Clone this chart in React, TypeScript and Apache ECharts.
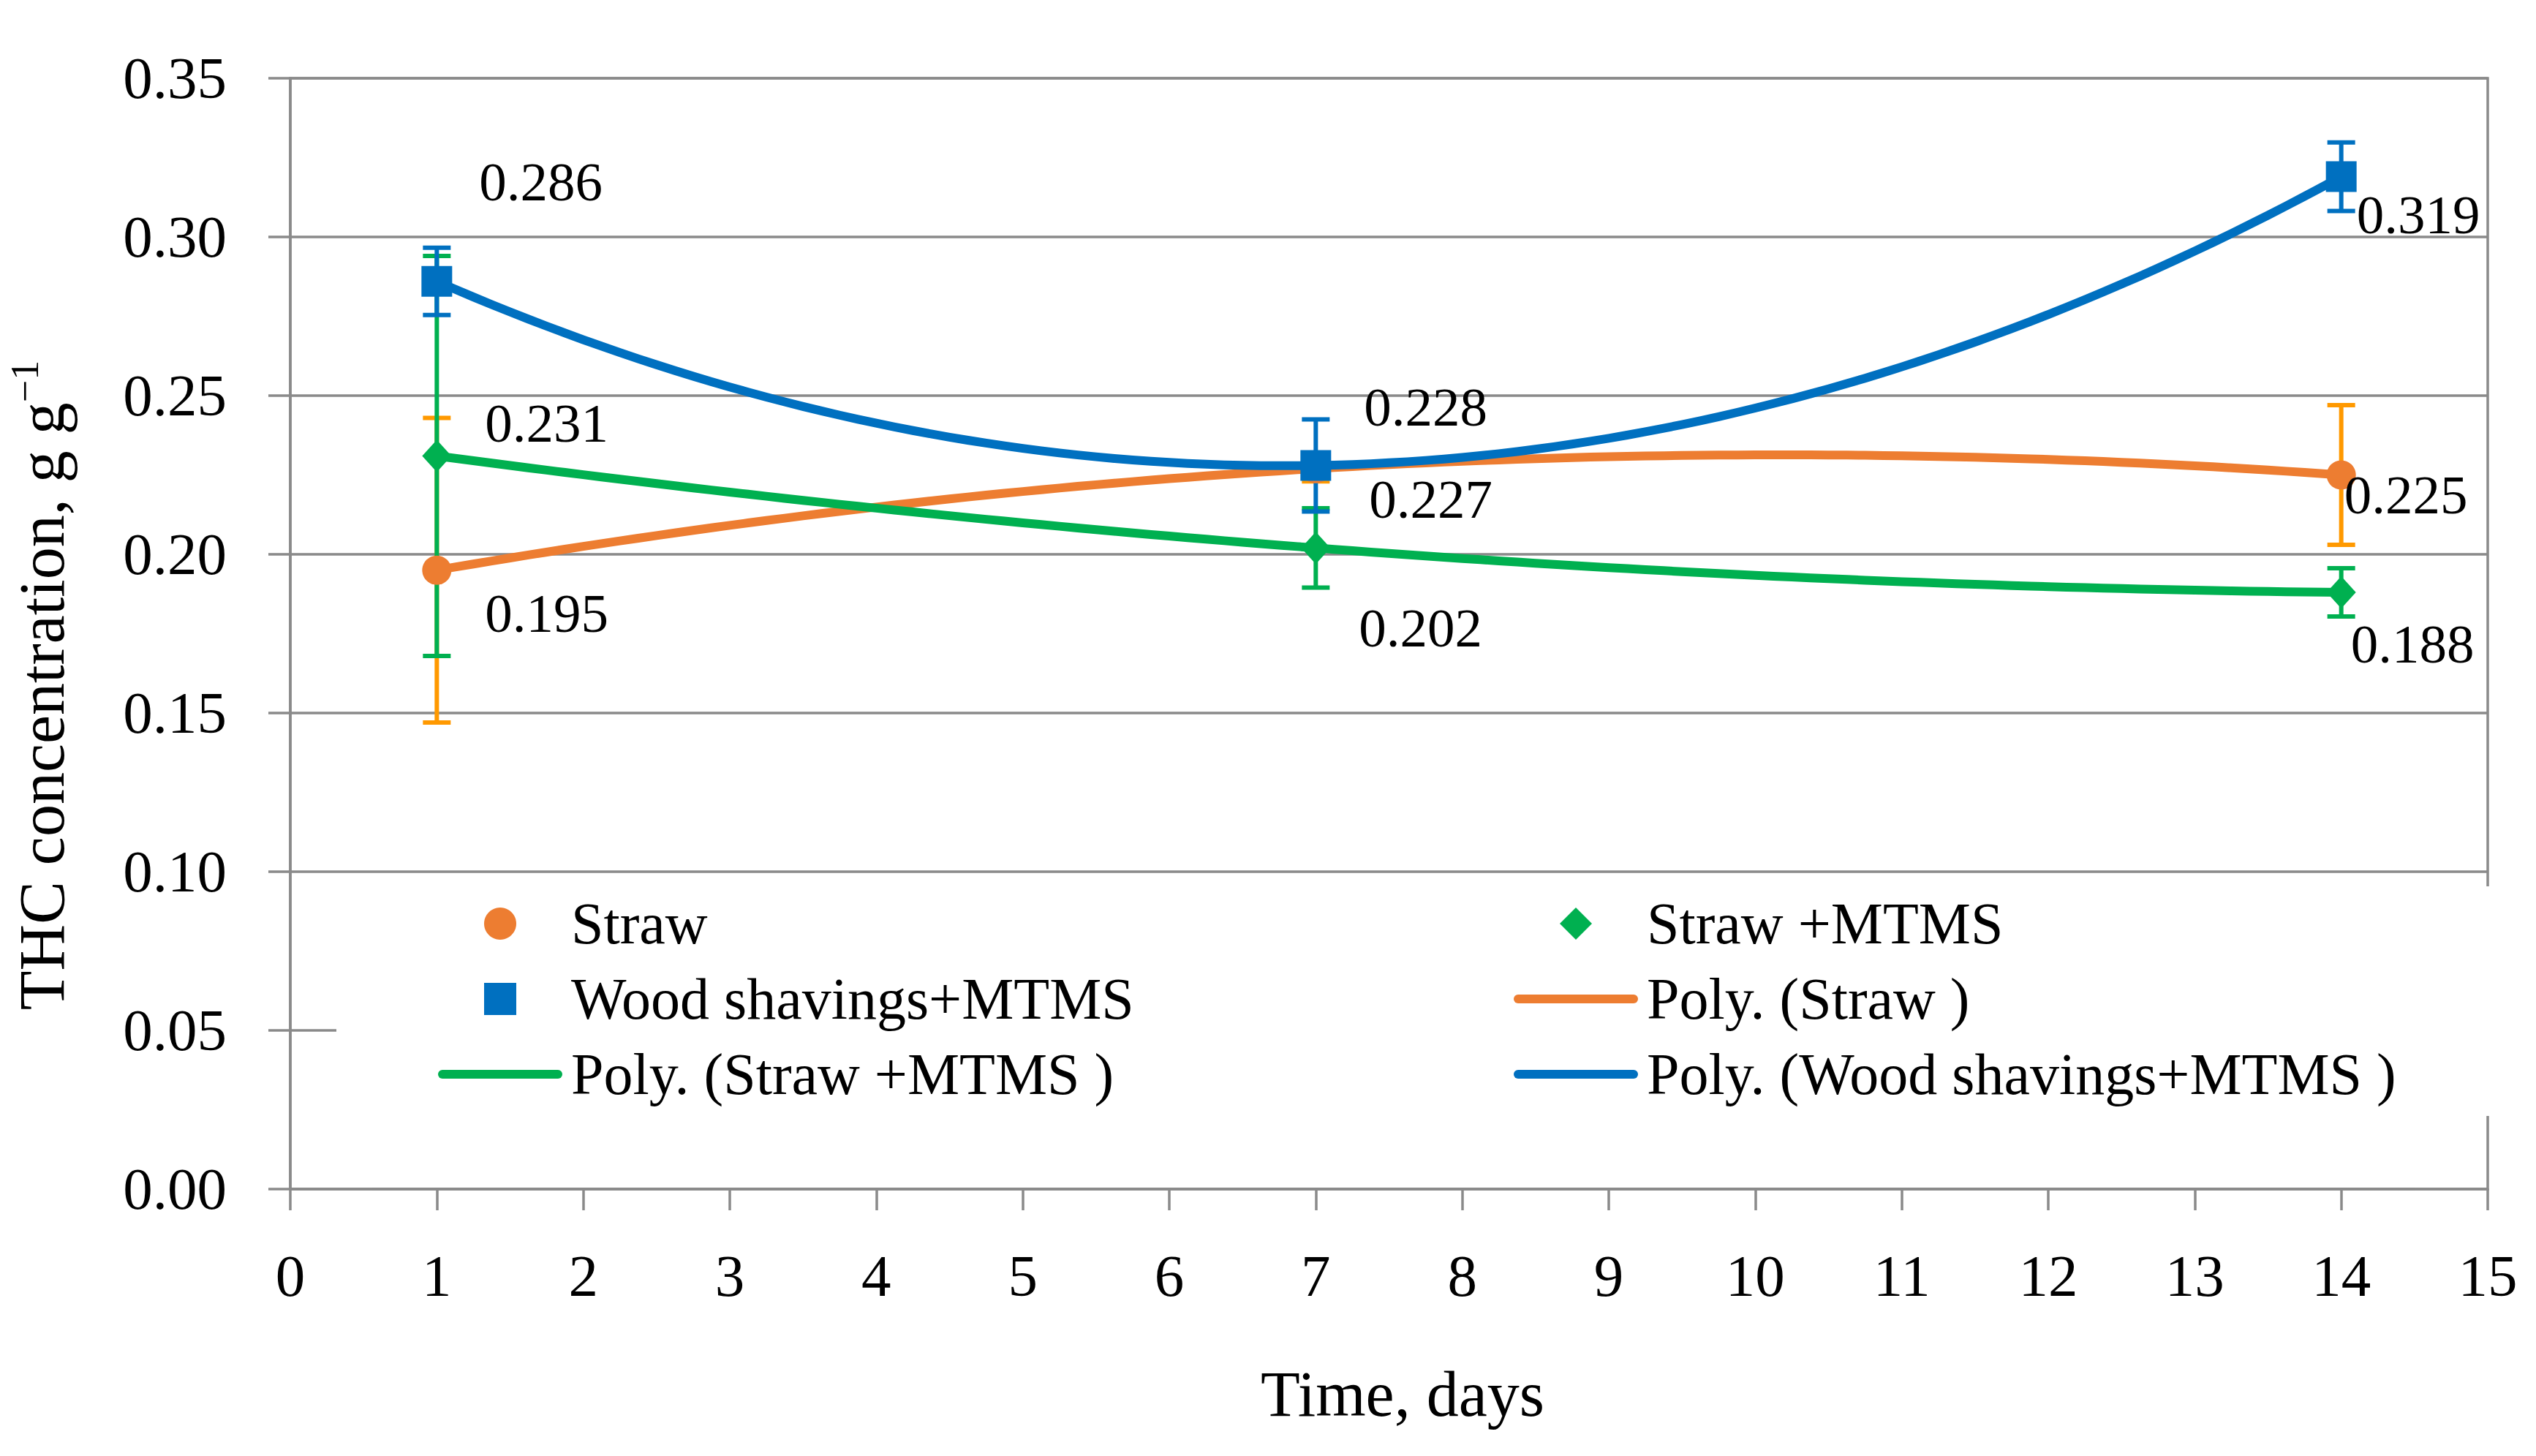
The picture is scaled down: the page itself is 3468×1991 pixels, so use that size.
import React, { useEffect, useRef } from "react";
import * as echarts from "echarts";

// ---- data ----
const days = [1, 7, 14];
const straw = [0.195, 0.227, 0.225];
const strawErr = [0.048, 0.004, 0.022];
const strawMtms = [0.231, 0.202, 0.188];
const strawMtmsErr = [0.063, 0.0125, 0.0076];
const wood = [0.286, 0.228, 0.319];
const woodErr = [0.0106, 0.0145, 0.0108];

const X_MIN = 0;
const X_MAX = 15;
const X_STEP = 1;
const Y_MIN = 0;
const Y_MAX = 0.35;
const Y_STEP = 0.05;

// label offsets (layout, px from point centre to label's left/middle)
const strawLabelOffsets = [[66, 59], [73, 42], [4, 27]];
const strawMtmsLabelOffsets = [[66, -45], [59, 109], [13, 70]];
const woodLabelOffsets = [[58, -136], [66, -80], [21, 52]];

const FONT = "'Liberation Serif', 'Times New Roman', serif";
const ORANGE = "#ED7D31";
const ORANGE_ERR = "#FF9900";
const GREEN = "#00B050";
const BLUE = "#0070C0";
const GRAY = "#8A8A8A";

// Excel "Poly." trendline (order 2, least squares) fitted to a series' points
function polyFit2(xs: number[], ys: number[]) {
  const [x0, x1, x2] = xs;
  const [y0, y1, y2] = ys;
  return (x: number) =>
    (y0 * (x - x1) * (x - x2)) / ((x0 - x1) * (x0 - x2)) +
    (y1 * (x - x0) * (x - x2)) / ((x1 - x0) * (x1 - x2)) +
    (y2 * (x - x0) * (x - x1)) / ((x2 - x0) * (x2 - x1));
}
function trendData(ys: number[]) {
  const f = polyFit2(days, ys);
  const out: number[][] = [];
  const n = 104;
  const a = days[0];
  const b = days[days.length - 1];
  for (let i = 0; i <= n; i++) {
    const x = a + ((b - a) * i) / n;
    out.push([x, f(x)]);
  }
  return out;
}

function errorSeries(name: string, ys: number[], errs: number[], color: string) {
  return {
    name,
    type: "custom",
    z: 2,
    data: days.map((d, i) => [d, ys[i] - errs[i], ys[i] + errs[i]]),
    encode: { x: 0, y: [1, 2] },
    renderItem: (params: any, api: any) => {
      const x = api.value(0);
      const top = api.coord([x, api.value(2)]);
      const bot = api.coord([x, api.value(1)]);
      const hw = 19;
      const st = { stroke: color, lineWidth: 6 };
      return {
        type: "group",
        children: [
          { type: "line", shape: { x1: top[0], y1: top[1], x2: bot[0], y2: bot[1] }, style: st },
          { type: "line", shape: { x1: top[0] - hw, y1: top[1], x2: top[0] + hw, y2: top[1] }, style: st },
          { type: "line", shape: { x1: bot[0] - hw, y1: bot[1], x2: bot[0] + hw, y2: bot[1] }, style: st },
        ],
      };
    },
  };
}

function scatterSeries(name: string, ys: number[], offsets: number[][], color: string, symbol: string, size: any) {
  return {
    name,
    type: "scatter",
    z: 4,
    symbol,
    symbolSize: size,
    itemStyle: { color, opacity: 1 },
    color,
    data: days.map((d, i) => ({
      value: [d, ys[i]],
      label: { offset: offsets[i] },
    })),
    label: {
      show: true,
      position: "inside",
      align: "left",
      verticalAlign: "middle",
      fontFamily: FONT,
      fontSize: 75,
      color: "#000",
      formatter: (p: any) => p.value[1].toFixed(3),
    },
  };
}

function trendSeries(name: string, ys: number[], color: string) {
  return {
    name,
    type: "line",
    z: 3,
    color,
    showSymbol: false,
    symbol: "none",
    itemStyle: { color },
    lineStyle: { color, width: 12, cap: "round", join: "round" },
    data: trendData(ys),
  };
}

const LINE_ICON = "path://M6,0L164,0A6,6,0,0,1,164,12L6,12A6,6,0,0,1,6,0Z";
const SQUARE_ICON = "path://M0,0L10,0L10,10L0,10Z";
const DIAMOND_ICON = "path://M5,0L10,5L5,10L0,5Z";

export default function App() {
  const ref = useRef<HTMLDivElement>(null);
  useEffect(() => {
    if (!ref.current) return;
    const chart = echarts.init(ref.current, undefined, { renderer: "svg" });
    const legendCommon = {
      orient: "vertical",
      itemWidth: 170,
      itemHeight: 44,
      itemGap: 23,
      padding: 0,
      selectedMode: false,
      symbolKeepAspect: true,
      itemStyle: { borderWidth: 0 },
      textStyle: { fontFamily: FONT, fontSize: 80, color: "#000", padding: [0, 0, 0, 7] },
    };
    chart.setOption({
      animation: false,
      backgroundColor: "#fff",
      grid: {
        left: 397,
        top: 107,
        width: 3005,
        height: 1519,
        show: true,
        borderColor: GRAY,
        borderWidth: 3.5,
        containLabel: false,
      },
      xAxis: {
        type: "value",
        min: X_MIN,
        max: X_MAX,
        interval: X_STEP,
        name: "Time, days",
        nameLocation: "middle",
        nameGap: 280,
        nameTextStyle: { fontFamily: FONT, fontSize: 88, color: "#000", verticalAlign: "middle", padding: [0, 0, 0, 37] },
        axisLine: { show: true, lineStyle: { color: GRAY, width: 3.5 } },
        axisTick: { show: true, inside: false, length: 29, lineStyle: { color: GRAY, width: 3.5 } },
        axisLabel: { fontFamily: FONT, fontSize: 81, color: "#000", margin: 78 },
        splitLine: { show: false },
      },
      yAxis: {
        type: "value",
        min: Y_MIN,
        max: Y_MAX,
        interval: Y_STEP,
        axisLine: { show: true, lineStyle: { color: GRAY, width: 3.5 } },
        axisTick: { show: true, inside: false, length: 30, lineStyle: { color: GRAY, width: 3.5 } },
        axisLabel: {
          fontFamily: FONT,
          fontSize: 81,
          color: "#000",
          margin: 87,
          formatter: (v: number) => v.toFixed(2),
        },
        splitLine: { show: true, lineStyle: { color: GRAY, width: 3.5 } },
      },
      legend: [
        {
          ...legendCommon,
          left: 599,
          top: 1223,
          data: [
            { name: "Straw", icon: "circle" },
            { name: "Wood shavings+MTMS", icon: SQUARE_ICON },
            { name: "Poly. (Straw +MTMS )", icon: LINE_ICON },
          ],
        },
        {
          ...legendCommon,
          left: 2070,
          top: 1223,
          data: [
            { name: "Straw +MTMS", icon: DIAMOND_ICON },
            { name: "Poly. (Straw )", icon: LINE_ICON },
            { name: "Poly. (Wood shavings+MTMS )", icon: LINE_ICON },
          ],
        },
      ],
      graphic: [
        {
          type: "rect",
          z: 3,
          shape: { x: 460, y: 1212, width: 2960, height: 314 },
          style: { fill: "#fff" },
        },
        {
          type: "text",
          z: 5,
          x: 57,
          y: 937,
          rotation: Math.PI / 2,
          style: {
            text: "{a|THC concentration, g g}{b|−1}",
            align: "center",
            verticalAlign: "middle",
            rich: {
              a: { fontFamily: FONT, fontSize: 88, lineHeight: 100, fill: "#000" },
              b: { fontFamily: FONT, fontSize: 54, lineHeight: 60, verticalAlign: "top", fill: "#000" },
            },
          },
        },
      ],
      series: [
        trendSeries("Poly. (Straw )", straw, ORANGE),
        trendSeries("Poly. (Straw +MTMS )", strawMtms, GREEN),
        trendSeries("Poly. (Wood shavings+MTMS )", wood, BLUE),
        errorSeries("Straw error", straw, strawErr, ORANGE_ERR),
        errorSeries("Straw +MTMS error", strawMtms, strawMtmsErr, GREEN),
        errorSeries("Wood shavings+MTMS error", wood, woodErr, BLUE),
        scatterSeries("Straw", straw, strawLabelOffsets, ORANGE, "circle", 40),
        scatterSeries("Straw +MTMS", strawMtms, strawMtmsLabelOffsets, GREEN, "diamond", [40, 44]),
        scatterSeries("Wood shavings+MTMS", wood, woodLabelOffsets, BLUE, "rect", 42),
      ],
    });
    return () => chart.dispose();
  }, []);
  return (
    <div
      ref={ref}
      style={{ position: "fixed", left: 0, top: 0, width: 3468, height: 1991, background: "#fff" }}
    />
  );
}
